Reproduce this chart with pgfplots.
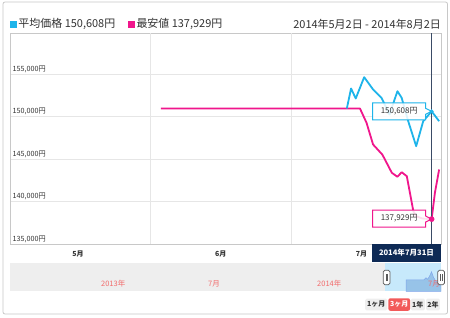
\documentclass[border=0pt]{standalone}
\usepackage{fontspec}
\setmainfont{Noto Sans CJK JP}
\usepackage{pgfplots}
\pgfplotsset{compat=1.18}
\usetikzlibrary{shapes.callouts}
\definecolor{cblue}{HTML}{1EB4EA}
\definecolor{cpink}{HTML}{F0168C}
\definecolor{navy}{HTML}{0E2A55}
\definecolor{crossc}{HTML}{3A4B66}
\definecolor{gridc}{HTML}{E6E6E6}
\definecolor{framec}{HTML}{C8C8C8}
\definecolor{txt}{HTML}{333333}
\definecolor{navbg}{HTML}{EEEEEE}
\definecolor{navsel}{HTML}{C7E9FB}
\definecolor{navarea}{HTML}{97C3E8}
\definecolor{navlab}{HTML}{F26B6B}
\definecolor{btnred}{HTML}{F25A5A}
\definecolor{btngray}{HTML}{EEEEEE}
\begin{document}
\begin{tikzpicture}[x=1bp,y=1bp]
\fill[white] (0,0) rectangle (450,317);
\draw[framec, rounded corners=2bp, line width=0.8bp] (3,3) rectangle (447.5,315);
% header
\fill[cblue] (10,289.5) rectangle (16.5,296);
\node[anchor=west, inner sep=0, font=\fontsize{11}{13}\selectfont, text=txt] at (18.3,292.8) {平均価格 150,608円};
\fill[cpink] (128,289.5) rectangle (134.5,296);
\node[anchor=west, inner sep=0, font=\fontsize{11}{13}\selectfont, text=txt] at (136.3,292.8) {最安値 137,929円};
\node[anchor=east, inner sep=0, font=\fontsize{11}{13}\selectfont, text=txt] at (441,292.8) {2014年5月2日 - 2014年8月2日};
% main axis
\begin{axis}[at={(10bp,73bp)}, anchor=south west, scale only axis,
  width=431bp, height=211bp,
  xmin=0, xmax=92, ymin=135000, ymax=159820,
  scaled y ticks=false,
  axis line style={framec, line width=0.8bp},
  major tick length=0,
  ytick={135000,140000,145000,150000,155000},
  yticklabels={{135,000円},{140,000円},{145,000円},{150,000円},{155,000円}},
  ymajorgrids, grid style={gridc, line width=0.8bp},
  yticklabel style={anchor=south west, inner sep=1bp, xshift=1.5bp, font=\fontsize{7.2}{8}\selectfont, text=txt},
  xtick={14.5,45,75}, xticklabels={5月,6月,7月},
  xticklabel style={font=\fontsize{7}{8}\selectfont\bfseries, text=txt, yshift=-3bp},
  extra x ticks={30,60}, extra x tick labels={},
  extra x tick style={grid=major},
  clip=false]
\addplot[cpink, line width=1.8bp, line join=round] coordinates {
 (32.2,150941) (74.7,150941) (76.1,149259) (77.5,146706) (79.5,145500)
 (81.5,143377) (82.7,142906) (83.6,143447) (84.7,142977) (86.1,138859)
 (86.7,138270) (88,138000) (89,137950) (90,137929) (90.7,141024) (91.6,143765)};
\addplot[cblue, line width=1.8bp, line join=round] coordinates {
 (71.9,150941) (72.8,153294) (73.8,152118) (75.6,154624) (77.5,153177)
 (79.3,152200) (81.0,150235) (82.7,152977) (83.6,152200) (85.0,149447)
 (86.7,146506) (88.2,149447) (90,150608) (91.6,149447)};
\draw[crossc, line width=0.9bp] (axis cs:90,135000) -- (axis cs:90,159820);
\addplot[only marks, mark=*, mark size=1.8bp, cblue] coordinates {(90,150608)};
\addplot[only marks, mark=*, mark size=2.6bp, cpink] coordinates {(90,137929)};
\node[rectangle callout, callout absolute pointer={(axis cs:90,150608)}, callout pointer width=6bp,
  draw=cblue, fill=white, fill opacity=0.85, text opacity=1, line width=1bp, minimum width=53bp, minimum height=17bp, inner sep=1bp,
  font=\fontsize{8}{9}\selectfont, text=txt, anchor=east] at ([xshift=-5.5bp]axis cs:90,150608) {150,608円};
\node[rectangle callout, callout absolute pointer={(axis cs:90,137929)}, callout pointer width=6bp,
  draw=cpink, fill=white, fill opacity=0.85, text opacity=1, line width=1bp, minimum width=53bp, minimum height=17bp, inner sep=1bp,
  font=\fontsize{8}{9}\selectfont, text=txt, anchor=east] at ([xshift=-5.5bp, yshift=0.6bp]axis cs:90,137929) {137,929円};
\end{axis}
% date label
\node[fill=navy, text=white, inner sep=0, minimum width=69bp, minimum height=18bp,
  font=\fontsize{7.6}{9}\selectfont\bfseries] at (406.5,64) {2014年7月31日};
% navigator
\fill[navbg] (10,25.7) rectangle (441,54);
\fill[navsel] (385,25.7) rectangle (441,54);
\begin{axis}[at={(10bp,25.7bp)}, anchor=south west, scale only axis,
  width=431bp, height=28.3bp, xmin=10, xmax=441, ymin=0, ymax=28.3, hide axis]
\addplot[fill=navarea, draw=navarea!85!blue, line width=0.5bp] coordinates {
 (406,0) (406,11.5) (424,11.5) (426,13.5) (427.5,12) (429.5,15) (431.5,19.5)
 (433.5,14) (435,11.5) (437,9) (441,8) (441,0)} -- cycle;
\end{axis}
\foreach \x/\t in {101/2013年, 208/7月, 317/2014年, 428/7月}
  \node[anchor=west, inner sep=0, text=navlab, font=\fontsize{7.5}{9}\selectfont] at (\x,33) {\t};
\foreach \x in {383.3, 437.8} {
  \draw[fill=white, draw=black!65, line width=0.7bp, rounded corners=1.5bp] (\x,32.3) rectangle ++(6.7,14.4);
  \draw[black!65, line width=0.6bp] (\x+2.5,36) -- (\x+2.5,43) (\x+4.2,36) -- (\x+4.2,43);
}
% buttons
\foreach \a/\b/\t in {365/387.3/1ヶ月, 410.7/425/1年, 426/440/2年}
  \node[fill=btngray, rounded corners=1.5bp, inner sep=0, minimum width={\b-\a}, minimum height=11.6bp,
    text=txt, font=\fontsize{7}{8}\selectfont\bfseries] at ({(\a+\b)/2},12.5) {\t};
\node[fill=btnred, rounded corners=2bp, inner sep=0, minimum width=21.7bp, minimum height=12.5bp,
    text=white, font=\fontsize{7}{8}\selectfont\bfseries] at (399.2,12.5) {3ヶ月};
\end{tikzpicture}
\end{document}
